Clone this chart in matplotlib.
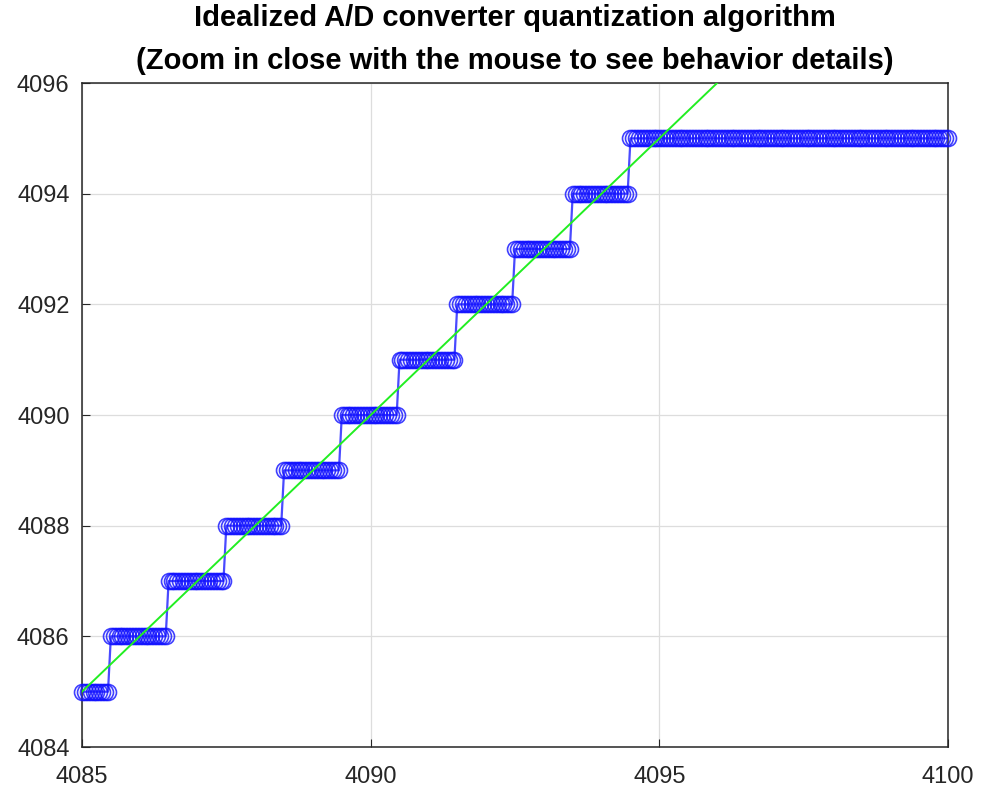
import numpy as np
import matplotlib.pyplot as plt

plt.rcParams['font.family'] = ['Liberation Sans', 'DejaVu Sans']

# input samples (step 0.05) and quantized output levels
x_start, x_stop, x_step = 4085.0, 4100.0, 0.05
levels = [4085, 4086, 4087, 4088, 4089, 4090, 4091, 4092, 4093, 4094, 4095]
counts = [10, 20, 20, 20, 20, 20, 20, 20, 20, 20, 111]

x = np.round(np.arange(x_start, x_stop + x_step / 2, x_step), 2)
y = np.repeat(levels, counts)

# ideal transfer line
ideal_x = [4085, 4100]
ideal_y = [4085, 4100]

fig = plt.figure(figsize=(9.81, 7.9), dpi=100)
ax = fig.add_axes([0.0836, 0.0544, 0.8828, 0.8405])

ax.plot(x, y, '-', color='#4a4aff', lw=1.6, zorder=2)
ax.plot(x, y, 'o', mfc='none', mec='#1010ff', mew=1.2, ms=11.5, alpha=0.8,
        zorder=3, clip_on=False)
ax.plot(ideal_x, ideal_y, color='#22ee22', lw=1.4, zorder=4)

ax.set_xlim(4085, 4100)
ax.set_ylim(4084, 4096)
ax.set_xticks([4085, 4090, 4095, 4100])
ax.set_yticks(np.arange(4084, 4097, 2))
ax.get_xaxis().get_major_formatter().set_useOffset(False)
ax.get_yaxis().get_major_formatter().set_useOffset(False)
ax.grid(True, color='#dddddd', lw=0.9)
ax.set_axisbelow(True)
ax.tick_params(direction='in', length=6, labelsize=17, colors='#262626')
ax.tick_params(axis='x', pad=14)
ax.tick_params(axis='y', pad=9)
for s in ax.spines.values():
    s.set_color('#262626')
    s.set_linewidth(1.1)

ax.set_title('Idealized A/D converter quantization algorithm\n'
             '(Zoom in close with the mouse to see behavior details)',
             fontsize=21, fontweight='bold', pad=10, linespacing=1.7)

fig.savefig('out.png', dpi=100)
